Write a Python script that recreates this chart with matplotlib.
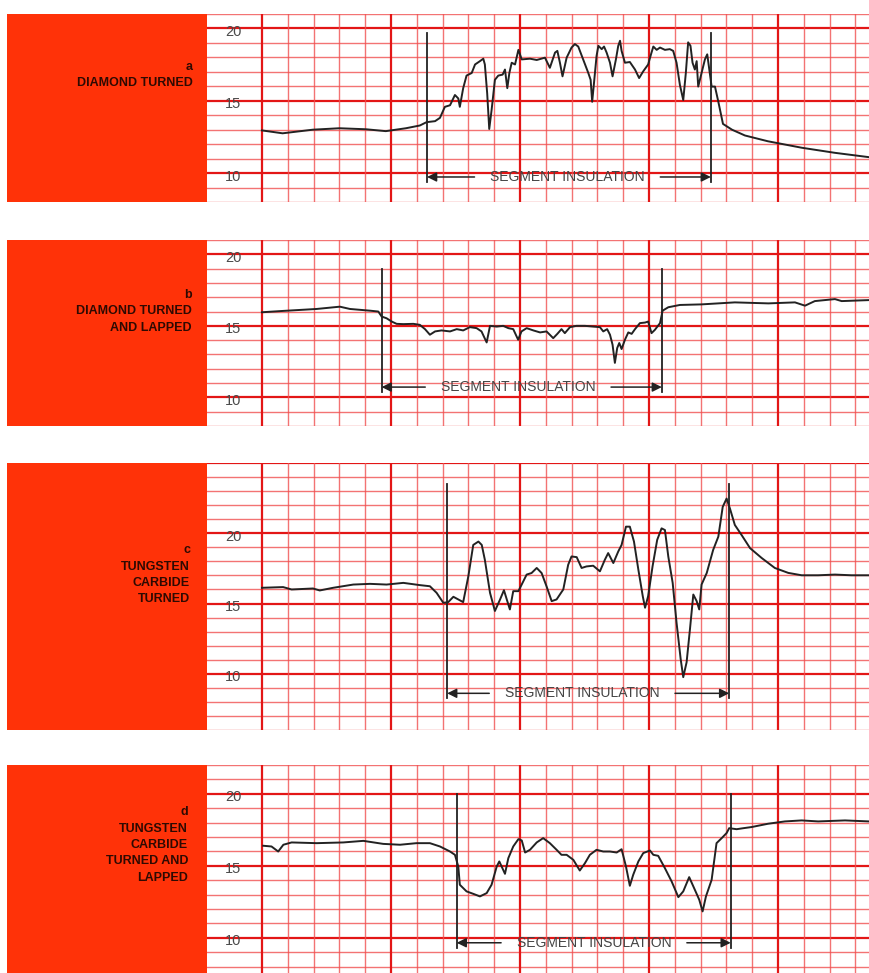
import matplotlib.pyplot as plt
from matplotlib.patches import Rectangle
import numpy as np

W, H = 869, 973

# chart paper readings: x in grid divisions from the first heavy line, y in scale units
a_x = [0.0, 0.8, 1.97, 3.0, 4.03, 4.8, 5.58, 6.12, 6.38, 6.71, 6.9, 7.09, 7.29, 7.48, 7.61, 7.67, 7.8,
       7.93, 8.13, 8.26, 8.45, 8.58, 8.64, 8.73, 8.81, 8.9, 9.03, 9.16, 9.33, 9.42, 9.51, 9.59, 9.68, 9.81,
       9.94, 10.07, 10.39, 10.65, 10.97, 11.16, 11.36, 11.45, 11.55, 11.65, 11.81, 12.0, 12.13, 12.26,
       12.45, 12.65, 12.74, 12.8, 12.87, 12.97, 13.04, 13.17, 13.26, 13.36, 13.49, 13.59, 13.72, 13.81,
       13.88, 13.94, 14.07, 14.26, 14.46, 14.62, 14.78, 14.97, 15.08, 15.17, 15.3, 15.43, 15.62, 15.81,
       15.94, 16.07, 16.2, 16.33, 16.43, 16.52, 16.61, 16.69, 16.78, 16.85, 16.91, 17.04, 17.17, 17.26,
       17.34, 17.43, 17.56, 17.69, 17.87, 18.22, 18.72, 19.61, 20.93, 22.21, 23.53]
a_y = [12.95, 12.75, 13.0, 13.1, 13.03, 12.9, 13.1, 13.29, 13.52, 13.59, 13.82, 14.58, 14.69, 15.4,
       15.16, 14.58, 15.87, 16.74, 16.92, 17.51, 17.74, 17.91, 17.51, 15.52, 13.05, 14.34, 16.45, 16.74,
       16.81, 17.16, 15.87, 16.92, 17.63, 17.51, 18.52, 17.86, 17.91, 17.82, 17.98, 17.28, 18.33, 18.45,
       17.63, 16.69, 17.98, 18.68, 18.92, 18.75, 17.86, 16.92, 16.45, 14.93, 16.22, 18.1, 18.8, 18.57,
       18.75, 18.33, 17.63, 16.69, 17.86, 18.8, 19.15, 18.45, 17.63, 17.68, 17.16, 16.57, 17.04, 17.51,
       18.21, 18.75, 18.52, 18.68, 18.52, 18.57, 18.45, 17.63, 16.1, 15.05, 16.92, 19.04, 18.8, 17.63,
       17.16, 17.74, 15.98, 16.92, 17.86, 18.21, 17.16, 15.98, 15.98, 14.93, 13.4, 13.0, 12.6, 12.2,
       11.75, 11.4, 11.1]

b_x = [0.0, 0.79, 2.12, 3.02, 3.41, 4.19, 4.51, 4.64, 4.83, 5.03, 5.22, 5.48, 5.87, 6.12, 6.32, 6.51,
       6.71, 6.96, 7.29, 7.55, 7.8, 8.06, 8.32, 8.51, 8.71, 8.84, 9.1, 9.35, 9.55, 9.74, 9.93, 10.06,
       10.26, 10.52, 10.78, 11.03, 11.29, 11.45, 11.61, 11.74, 11.94, 12.19, 12.52, 12.84, 13.1, 13.23,
       13.38, 13.49, 13.59, 13.68, 13.77, 13.85, 13.94, 14.07, 14.2, 14.33, 14.46, 14.65, 14.85, 14.97,
       15.1, 15.23, 15.43, 15.53, 15.75, 16.2, 17.04, 18.33, 19.63, 20.66, 21.05, 21.43, 22.21, 22.47,
       23.53]
b_y = [15.95, 16.04, 16.18, 16.34, 16.18, 16.06, 16.0, 15.65, 15.53, 15.3, 15.14, 15.12, 15.14, 15.07,
       14.77, 14.38, 14.61, 14.68, 14.61, 14.77, 14.68, 14.91, 14.84, 14.61, 13.84, 15.0, 14.95, 15.0,
       14.84, 14.77, 14.03, 14.61, 14.84, 14.68, 14.54, 14.61, 14.14, 14.44, 14.77, 14.49, 14.91, 15.0,
       15.0, 14.95, 14.91, 14.61, 14.77, 14.38, 13.68, 12.41, 13.45, 13.8, 13.38, 14.03, 14.54, 14.44,
       14.77, 15.19, 15.23, 15.3, 14.49, 14.72, 15.19, 16.06, 16.3, 16.46, 16.5, 16.64, 16.57, 16.64,
       16.41, 16.73, 16.87, 16.73, 16.8]

c_x = [0.0, 0.82, 1.15, 1.98, 2.24, 2.76, 3.54, 4.19, 4.83, 5.48, 6.12, 6.51, 6.77, 7.03, 7.22, 7.42,
       7.61, 7.8, 8.0, 8.19, 8.39, 8.52, 8.64, 8.84, 9.03, 9.23, 9.38, 9.51, 9.61, 9.74, 9.94, 10.13,
       10.26, 10.45, 10.65, 10.84, 11.03, 11.23, 11.42, 11.68, 11.87, 12.0, 12.2, 12.39, 12.58, 12.84,
       13.1, 13.29, 13.42, 13.62, 13.81, 13.94, 14.11, 14.26, 14.42, 14.59, 14.76, 14.85, 14.97, 15.14,
       15.32, 15.49, 15.62, 15.75, 15.92, 16.07, 16.23, 16.33, 16.46, 16.59, 16.72, 16.85, 16.95, 17.04,
       17.24, 17.49, 17.69, 17.86, 18.01, 18.14, 18.33, 18.59, 18.92, 19.37, 19.88, 20.4, 20.92, 21.56,
       22.21, 22.85, 23.53]
c_y = [16.12, 16.17, 16.0, 16.07, 15.93, 16.12, 16.35, 16.4, 16.35, 16.47, 16.31, 16.23, 15.76, 15.05,
       15.1, 15.48, 15.29, 15.1, 16.94, 19.17, 19.41, 19.17, 18.11, 15.76, 14.47, 15.29, 15.95, 15.17,
       14.58, 15.88, 15.88, 16.58, 17.06, 17.17, 17.53, 17.17, 16.23, 15.17, 15.29, 16.0, 17.76, 18.35,
       18.3, 17.53, 17.64, 17.69, 17.29, 18.11, 18.59, 17.88, 18.7, 19.17, 20.47, 20.47, 19.41, 17.41,
       15.53, 14.7, 15.53, 17.64, 19.53, 20.35, 20.23, 18.35, 16.47, 13.64, 11.05, 9.76, 10.82, 13.17,
       15.64, 15.17, 14.58, 16.35, 17.17, 18.82, 19.76, 21.88, 22.47, 21.76, 20.59, 19.88, 18.94, 18.24,
       17.53, 17.18, 17.01, 17.01, 17.06, 17.01, 17.01]

d_x = [0.05, 0.37, 0.63, 0.83, 1.15, 2.12, 3.15, 3.93, 4.7, 5.35, 5.99, 6.51, 6.9, 7.29, 7.48, 7.61,
       7.67, 7.93, 8.19, 8.45, 8.71, 8.9, 9.1, 9.2, 9.29, 9.42, 9.55, 9.74, 9.94, 10.07, 10.2, 10.39,
       10.65, 10.9, 11.16, 11.42, 11.61, 11.81, 12.07, 12.32, 12.52, 12.71, 12.97, 13.23, 13.49, 13.75,
       13.94, 14.11, 14.26, 14.39, 14.59, 14.78, 15.04, 15.17, 15.36, 15.62, 15.88, 16.14, 16.33, 16.56,
       16.78, 16.95, 17.08, 17.21, 17.43, 17.62, 17.82, 18.01, 18.11, 18.4, 18.66, 18.98, 19.62, 20.27,
       20.92, 21.56, 22.6, 23.53]
d_y = [16.39, 16.34, 15.99, 16.46, 16.62, 16.57, 16.62, 16.73, 16.52, 16.46, 16.57, 16.57, 16.34, 15.99,
       15.76, 14.95, 13.68, 13.22, 13.05, 12.87, 13.1, 13.68, 14.95, 15.3, 14.95, 14.44, 15.53, 16.34,
       16.85, 16.76, 15.92, 16.11, 16.62, 16.92, 16.57, 16.11, 15.76, 15.76, 15.41, 14.67, 15.18, 15.76,
       16.11, 15.99, 15.99, 15.92, 16.15, 14.95, 13.61, 14.37, 15.3, 15.88, 16.06, 15.76, 15.69, 14.83,
       13.91, 12.82, 13.22, 14.21, 13.33, 12.64, 11.83, 12.87, 14.02, 16.57, 16.92, 17.27, 17.61, 17.54,
       17.61, 17.69, 17.92, 18.08, 18.15, 18.08, 18.15, 18.08]

labels = [["a", "DIAMOND TURNED"],
          ["b", "DIAMOND TURNED", "AND LAPPED"],
          ["c", "TUNGSTEN", "CARBIDE", "TURNED"],
          ["d", "TUNGSTEN", "CARBIDE", "TURNED AND", "LAPPED"]]
scale_ticks = [10, 15, 20]
seg_text = "SEGMENT INSULATION"

# segment marker positions (grid divisions)
marks = [(6.4, 17.4), (4.64, 15.5), (7.18, 18.11), (7.55, 18.17)]

# layout (pixels / scale units)
strip_top = [14, 240, 463, 765]
strip_bot = [202, 426, 730, 973]
ylims = [(8, 21), (8, 21), (6, 25), (7.55, 22)]
label_top = [67, 295, 550, 812]
label_right = [193, 192, 190, 188]
mark_top = [19.7, 19.0, 23.5, 20.0]
arrow_y = [9.73, 10.72, 8.61, 9.65]
text_mid = [11.84, 9.93, 12.41, 12.87]
XMIN, XMAX = -2.13, 23.53

ORANGE = "#ff3208"
MINOR = "#f05050"
MAJOR = "#e31616"
INK = "#222222"

plt.rcParams['font.family'] = ['Liberation Sans', 'DejaVu Sans']

fig = plt.figure(figsize=(W / 100, H / 100), dpi=100)

series = [(a_x, a_y), (b_x, b_y), (c_x, c_y), (d_x, d_y)]
for i, (xs, ys) in enumerate(series):
    top, bot = strip_top[i], strip_bot[i]
    fig.patches.append(Rectangle((7 / W, 1 - bot / H), 200 / W, (bot - top) / H,
                                 transform=fig.transFigure, facecolor=ORANGE, edgecolor='none'))
    for k, line in enumerate(labels[i]):
        fig.text(label_right[i] / W, 1 - (label_top[i] + 16.5 * k) / H, line, ha='right', va='center',
                 fontsize=9, fontweight='bold', color='#2e0a02')

    ax = fig.add_axes([207 / W, 1 - bot / H, (W - 207) / W, (bot - top) / H])
    lo, hi = ylims[i]
    ax.set_xlim(XMIN, XMAX)
    ax.set_ylim(lo, hi)
    ax.set_axis_off()

    # chart paper grid
    for v in range(int(np.ceil(lo)), int(hi) + 1):
        major = v % 5 == 0
        ax.axhline(v, color=MAJOR if major else MINOR, lw=1.6 if major else 1.0,
                   alpha=1.0 if major else 0.8, zorder=1)
    for v in range(0, int(XMAX) + 1):
        major = v % 5 == 0
        ax.axvline(v, color=MAJOR if major else MINOR, lw=1.6 if major else 1.0,
                   alpha=1.0 if major else 0.8, zorder=1)

    for t in scale_ticks:
        ax.text(-1.12, t - 0.25, str(t), ha='center', va='center', fontsize=10.5, color='#4a4a4a', zorder=2)

    ax.plot(xs, ys, color=INK, lw=1.4, solid_joinstyle='round', zorder=3)

    m0, m1 = marks[i]
    ay = arrow_y[i]
    for m in (m0, m1):
        ax.plot([m, m], [ay - 0.35, mark_top[i]], color=INK, lw=1.3, zorder=3)
    mid = text_mid[i]
    ax.text(mid, ay, seg_text, ha='center', va='center', fontsize=10, color='#444444', zorder=3)
    ax.annotate('', xy=(m0, ay), xytext=(mid - 3.6, ay),
                arrowprops=dict(arrowstyle='-|>', color=INK, lw=1.1, mutation_scale=14,
                                shrinkA=0, shrinkB=0), zorder=3)
    ax.annotate('', xy=(m1, ay), xytext=(mid + 3.6, ay),
                arrowprops=dict(arrowstyle='-|>', color=INK, lw=1.1, mutation_scale=14,
                                shrinkA=0, shrinkB=0), zorder=3)

fig.savefig("out.png", dpi=100, facecolor='white')
